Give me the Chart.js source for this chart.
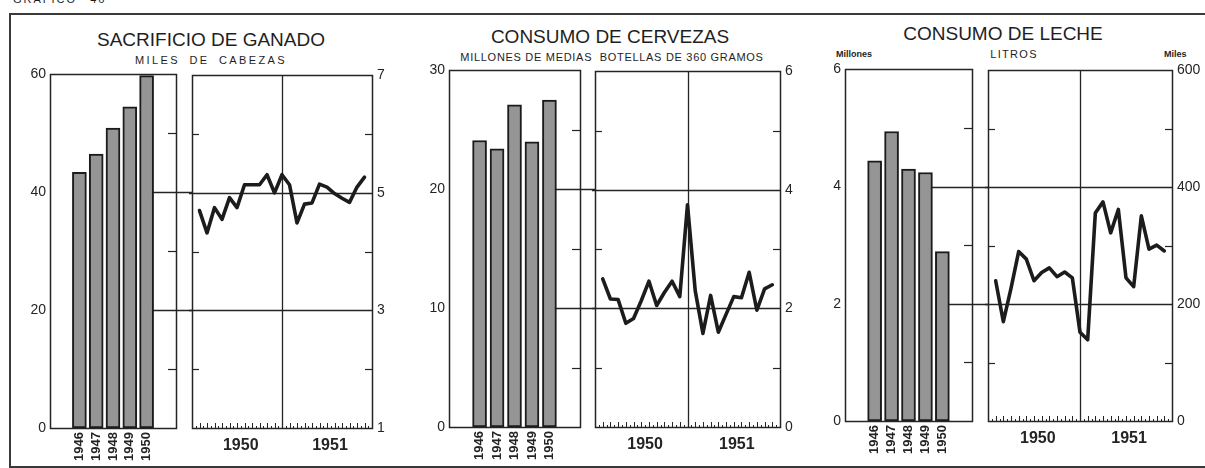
<!DOCTYPE html>
<html><head><meta charset="utf-8">
<script src="https://cdn.jsdelivr.net/npm/chart.js@4.4.1/dist/chart.umd.min.js"></script>
<style>
html,body{margin:0;padding:0;background:#fff;}
body{width:1205px;height:468px;position:relative;overflow:hidden;font-family:"Liberation Sans",Arial,sans-serif;color:#1e1e1e;}
.frame{position:absolute;left:9px;top:13px;width:1210px;height:451px;border-top:2px solid #3a3a3a;border-left:2px solid #3a3a3a;border-bottom:2px solid #3a3a3a;}
.t{position:absolute;white-space:nowrap;transform:translateX(-50%);line-height:1;}
.title{font-size:19px;}
.sub{font-size:11px;}
.small{font-size:9px;font-weight:bold;position:absolute;white-space:nowrap;line-height:1;}
canvas{position:absolute;}
</style></head><body>
<div class="frame"></div>
<div style="position:absolute;left:13px;top:-6px;font-size:11px;letter-spacing:2px;word-spacing:8px;line-height:1;">GRAFICO 46</div>
<div class="t title" style="left:211px;top:30px;">SACRIFICIO DE GANADO</div>
<div class="t sub" style="left:211px;top:55px;letter-spacing:2.4px;word-spacing:4px;">MILES DE CABEZAS</div>
<div class="t title" style="left:610px;top:27px;">CONSUMO DE CERVEZAS</div>
<div class="t sub" style="left:612px;top:52px;letter-spacing:0.7px;">MILLONES DE MEDIAS&nbsp; BOTELLAS DE 360 GRAMOS</div>
<div class="t title" style="left:1003px;top:24px;">CONSUMO DE LECHE</div>
<div class="small" style="left:836px;top:50px;">Millones</div>
<div class="t sub" style="left:1014px;top:49px;letter-spacing:1.3px;">LITROS</div>
<div class="small" style="left:1164px;top:50px;">Miles</div>

<script>
// ---------- DATA ----------
const years = [1946, 1947, 1948, 1949, 1950];
const months = [1,2,3,4,5,6,7,8,9,10,11,12,13,14,15,16,17,18,19,20,21,22,23]; // Feb 1950 .. Dec 1951 (0 = Jan 1950)
const yearLabels = ['1950', '1951'];
const yearLabelPos = [6.5, 18.4];
const yearBoundary = 12;

const ganadoAnual = [43.4, 46.5, 50.9, 54.5, 59.8];
const ganadoMensual = [4.70,4.32,4.75,4.55,4.92,4.75,5.14,5.14,5.14,5.31,5.00,5.31,5.14,4.49,4.81,4.83,5.15,5.10,4.99,4.91,4.84,5.10,5.27];
const ganadoLeftTicks = [0, 20, 40, 60];
const ganadoLeftMinor = [10, 30, 50];
const ganadoRightTicks = [1, 3, 5, 7];
const ganadoRightMinor = [2, 4, 6];
const ganadoRightGrid = [3, 5];
const ganadoLeftGrid = [20, 40];

const cervezaAnual = [24.1, 23.4, 27.1, 24.0, 27.5];
const cervezaMensual = [2.50,2.16,2.15,1.75,1.83,2.13,2.46,2.05,2.27,2.46,2.20,3.75,2.30,1.58,2.22,1.60,1.90,2.20,2.18,2.61,1.97,2.33,2.40];
const cervezaLeftTicks = [0, 10, 20, 30];
const cervezaLeftMinor = [5, 15, 25];
const cervezaRightTicks = [0, 2, 4, 6];
const cervezaRightMinor = [1, 3, 5];
const cervezaRightGrid = [2, 4];
const cervezaLeftGrid = [10, 20];

const lecheAnual = [4.44, 4.94, 4.30, 4.24, 2.89];
const lecheMensual = [240,170,227,290,277,240,254,262,247,255,245,152,139,356,375,322,362,245,230,351,294,301,291];
const lecheLeftTicks = [0, 2, 4, 6];
const lecheLeftMinor = [1, 3, 5];
const lecheRightTicks = [0, 200, 400, 600];
const lecheRightMinor = [100, 300, 500];
const lecheRightGrid = [200, 400];
const lecheLeftGrid = [2, 4];

// ---------- DRAWING ----------
const FONT = "'Liberation Sans Narrow','Liberation Sans',Arial,sans-serif";
const INK = '#242424';

const decor = {
  id: 'decor',
  beforeDatasetsDraw(chart) {
    const o = chart.options.plugins.decor; if (!o) return;
    const ctx = chart.ctx, a = chart.chartArea;
    const xs = chart.scales.x, ys = chart.scales.y;
    ctx.save();
    ctx.strokeStyle = INK; ctx.lineWidth = 1.3;
    if (o.kind === 'bar') {
      o.ext.forEach(v => {
        let idx = -1;
        o.values.forEach((val, i) => { if (val >= v) idx = i; });
        const x0 = idx >= 0 ? xs.getPixelForValue(o.xs[idx]) : a.left;
        const y = Math.round(ys.getPixelForValue(v)) + 0.5;
        ctx.beginPath(); ctx.moveTo(x0, y); ctx.lineTo(chart.width, y); ctx.stroke();
      });
    } else {
      o.grid.forEach(v => {
        const y = Math.round(ys.getPixelForValue(v)) + 0.5;
        ctx.beginPath(); ctx.moveTo(a.left - 3, y); ctx.lineTo(a.right, y); ctx.stroke();
      });
      const xd = Math.round(xs.getPixelForValue(o.boundary)) + 0.5;
      ctx.beginPath(); ctx.moveTo(xd, a.top); ctx.lineTo(xd, a.bottom); ctx.stroke();
      ctx.lineWidth = 1.2;
      o.minor.forEach(v => {
        const y = Math.round(ys.getPixelForValue(v)) + 0.5;
        ctx.beginPath(); ctx.moveTo(a.left, y); ctx.lineTo(a.left + 7, y); ctx.stroke();
        ctx.beginPath(); ctx.moveTo(a.right - 7, y); ctx.lineTo(a.right, y); ctx.stroke();
      });
      ctx.lineWidth = 1;
      for (let m = 1; m <= 47; m++) {
        const v = m / 2;
        const x = Math.round(xs.getPixelForValue(v)) + 0.5;
        const h = (m % 2 === 0) ? 5 : 2;
        ctx.beginPath(); ctx.moveTo(x, a.bottom); ctx.lineTo(x, a.bottom - h); ctx.stroke();
      }
    }
    ctx.restore();
  },
  afterDatasetsDraw(chart) {
    const o = chart.options.plugins.decor; if (!o) return;
    const ctx = chart.ctx, a = chart.chartArea, ys = chart.scales.y;
    ctx.save();
    ctx.strokeStyle = INK;
    if (o.kind === 'bar') {
      ctx.lineWidth = 1.2;
      o.minor.forEach(v => {
        const y = Math.round(ys.getPixelForValue(v)) + 0.5;
        ctx.beginPath(); ctx.moveTo(a.right - 8, y); ctx.lineTo(a.right, y); ctx.stroke();
      });
    }
    ctx.lineWidth = 1.5;
    ctx.strokeRect(Math.round(a.left) + 0.5, Math.round(a.top) + 0.5, Math.round(a.right - a.left), Math.round(a.bottom - a.top));
    ctx.restore();
  }
};
Chart.register(decor);

function mkCanvas(left, top, w, h) {
  const c = document.createElement('canvas');
  c.width = w; c.height = h;
  c.style.left = left + 'px'; c.style.top = top + 'px';
  c.style.width = w + 'px'; c.style.height = h + 'px';
  document.body.appendChild(c);
  return c;
}

const base = { responsive: false, animation: false, devicePixelRatio: 1, events: [] };

function barChart(g) {
  const yW = 32, xH = 48, padT = 12;
  const left = g.L - yW, top = g.T - padT;
  const w = g.nextL - left, h = g.B + xH - top;
  const c = mkCanvas(left, top, w, h);
  new Chart(c, {
    type: 'bar',
    data: { datasets: [{
      data: years.map((y, i) => ({ x: y, y: g.values[i] })),
      backgroundColor: '#959595', borderColor: '#1b1b1b', borderWidth: 2,
      barThickness: 14, borderSkipped: false
    }]},
    options: Object.assign({}, base, {
      layout: { padding: { top: padT, right: g.nextL - g.R, left: 0, bottom: 0 } },
      plugins: { legend: { display: false }, tooltip: { enabled: false },
        decor: { kind: 'bar', ext: g.ext, minor: g.minor, values: g.values, xs: years } },
      scales: {
        x: { type: 'linear', min: 1945, max: 1951,
          afterBuildTicks: s => { s.ticks = years.map(v => ({ value: v })); },
          ticks: { minRotation: 90, maxRotation: 90, autoSkip: false, padding: 4, color: INK,
            font: { size: 13, weight: 'bold', family: FONT }, callback: v => String(v) },
          grid: { display: false, drawTicks: false }, border: { display: false },
          afterFit: s => { s.height = xH; } },
        y: { type: 'linear', min: g.ticks[0], max: g.ticks[g.ticks.length - 1],
          afterBuildTicks: s => { s.ticks = g.ticks.map(v => ({ value: v })); },
          ticks: { padding: 4, color: INK, font: { size: 14, family: FONT } },
          grid: { display: false, drawTicks: false }, border: { display: false },
          afterFit: s => { s.width = yW; } }
      }
    })
  });
}

function lineChart(g) {
  const padL = 3, yW = 30, xH = 32, padT = 12;
  const left = g.L - padL, top = g.T - padT;
  const w = g.R - left + yW, h = g.B + xH - top;
  const c = mkCanvas(left, top, w, h);
  new Chart(c, {
    type: 'line',
    data: { datasets: [{
      data: months.map((m, i) => ({ x: m, y: g.values[i] })),
      borderColor: '#1c1c1c', borderWidth: 3.6, pointRadius: 0, tension: 0,
      borderJoinStyle: 'round', borderCapStyle: 'round', fill: false
    }]},
    options: Object.assign({}, base, {
      layout: { padding: { top: padT, left: padL, right: 0, bottom: 0 } },
      plugins: { legend: { display: false }, tooltip: { enabled: false },
        decor: { kind: 'line', grid: g.grid, minor: g.minor, boundary: yearBoundary } },
      scales: {
        x: { type: 'linear', min: 0, max: 24,
          afterBuildTicks: s => { s.ticks = yearLabelPos.map(v => ({ value: v })); },
          ticks: { maxRotation: 0, autoSkip: false, padding: 8, color: INK,
            font: { size: 16, weight: 'bold', family: FONT },
            callback: (v, i) => yearLabels[i] },
          grid: { display: false, drawTicks: false }, border: { display: false },
          afterFit: s => { s.height = xH; } },
        y: { type: 'linear', position: 'right', min: g.ticks[0], max: g.ticks[g.ticks.length - 1],
          afterBuildTicks: s => { s.ticks = g.ticks.map(v => ({ value: v })); },
          ticks: { padding: 5, color: INK, font: { size: 14, family: FONT } },
          grid: { display: false, drawTicks: false }, border: { display: false },
          afterFit: s => { s.width = yW; } }
      }
    })
  });
}

// Ganado
barChart({ L: 50, R: 176, T: 74, B: 428, nextL: 192, values: ganadoAnual, ticks: ganadoLeftTicks, minor: ganadoLeftMinor, ext: ganadoLeftGrid });
lineChart({ L: 192, R: 372, T: 74, B: 428, values: ganadoMensual, ticks: ganadoRightTicks, minor: ganadoRightMinor, grid: ganadoRightGrid });
// Cerveza
barChart({ L: 449, R: 580, T: 70, B: 427, nextL: 595, values: cervezaAnual, ticks: cervezaLeftTicks, minor: cervezaLeftMinor, ext: cervezaLeftGrid });
lineChart({ L: 595, R: 780, T: 70, B: 427, values: cervezaMensual, ticks: cervezaRightTicks, minor: cervezaRightMinor, grid: cervezaRightGrid });
// Leche
barChart({ L: 845, R: 972, T: 69, B: 421, nextL: 988, values: lecheAnual, ticks: lecheLeftTicks, minor: lecheLeftMinor, ext: lecheLeftGrid });
lineChart({ L: 988, R: 1172, T: 69, B: 421, values: lecheMensual, ticks: lecheRightTicks, minor: lecheRightMinor, grid: lecheRightGrid });
</script>
</body></html>
